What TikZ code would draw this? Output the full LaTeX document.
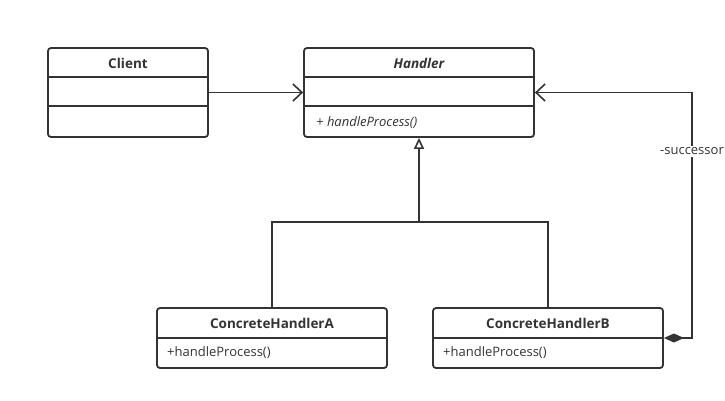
\documentclass[tikz,border=0pt]{standalone}
\usepackage{fontspec}
\setmainfont{Open Sans}
\usetikzlibrary{arrows.meta, positioning, calc}
\definecolor{umlgray}{RGB}{51, 51, 51}

\begin{document}
\begin{tikzpicture}[x=1pt, y=-1pt,
  cbox/.style={draw=umlgray, line width=1.8pt, rounded corners=3pt, inner sep=0pt},
  ctitle/.style={text=umlgray, font=\fontsize{13.5}{15}\selectfont\bfseries},
  cmember/.style={text=umlgray, font=\fontsize{13}{15}\selectfont, anchor=west, inner sep=0pt},
  cline/.style={draw=umlgray, line width=1.8pt},
  assoc/.style={cline, -{Straight Barb[length=9pt, width=17pt, line width=1.6pt]}},
  inherit/.style={cline, -{Triangle[open, length=11pt, width=10pt, line width=1.6pt]}},
  compos/.style={cline, {Diamond[length=20pt, width=9pt]}-{Straight Barb[length=9pt, width=17pt, line width=1.6pt]}},
  rolelbl/.style={fill=white, text=umlgray, font=\fontsize{13}{15}\selectfont, inner sep=2pt}
]
  \useasboundingbox (0,0) rectangle (725,400);

  \node[cbox, minimum width=160pt, minimum height=89pt] (client) at (128,92.5) {};
  \node[ctitle] at (128,63) {Client};
  \draw[cline] ($(client.north west)+(0,30)$) -- ($(client.north east)+(0,30)$);
  \draw[cline] ($(client.north west)+(0,59)$) -- ($(client.north east)+(0,59)$);

  \node[cbox, minimum width=230pt, minimum height=89pt] (handler) at (419,92.5) {};
  \node[ctitle, font=\fontsize{13.5}{15}\selectfont\bfseries\itshape] at (419,63) {Handler};
  \draw[cline] ($(handler.north west)+(0,30)$) -- ($(handler.north east)+(0,30)$);
  \draw[cline] ($(handler.north west)+(0,59)$) -- ($(handler.north east)+(0,59)$);
  \node[cmember, font=\fontsize{13}{15}\selectfont\itshape] at (316,123) {+ handleProcess()};

  \node[cbox, minimum width=230pt, minimum height=60pt] (handlerA) at (272,338) {};
  \node[ctitle] at (272,323) {ConcreteHandlerA};
  \draw[cline] (handlerA.west) -- (handlerA.east);
  \node[cmember] at (167,353) {+handleProcess()};

  \node[cbox, minimum width=230pt, minimum height=60pt] (handlerB) at (548,338) {};
  \node[ctitle] at (548,323) {ConcreteHandlerB};
  \draw[cline] (handlerB.west) -- (handlerB.east);
  \node[cmember] at (443,353) {+handleProcess()};

  \draw[assoc] (client.east) -- (handler.west);

  \coordinate (join) at (419,222);
  \draw[cline] (handlerA.north) |- (join) -| (handlerB.north);
  \draw[inherit] (join) -- (handler.south);

  \coordinate (turn) at (692,338);
  \draw[compos] (handlerB.east) -- (turn) -- node[rolelbl, pos=0.76] {-successor} (turn |- handler.east) -- (handler.east);
\end{tikzpicture}
\end{document}
